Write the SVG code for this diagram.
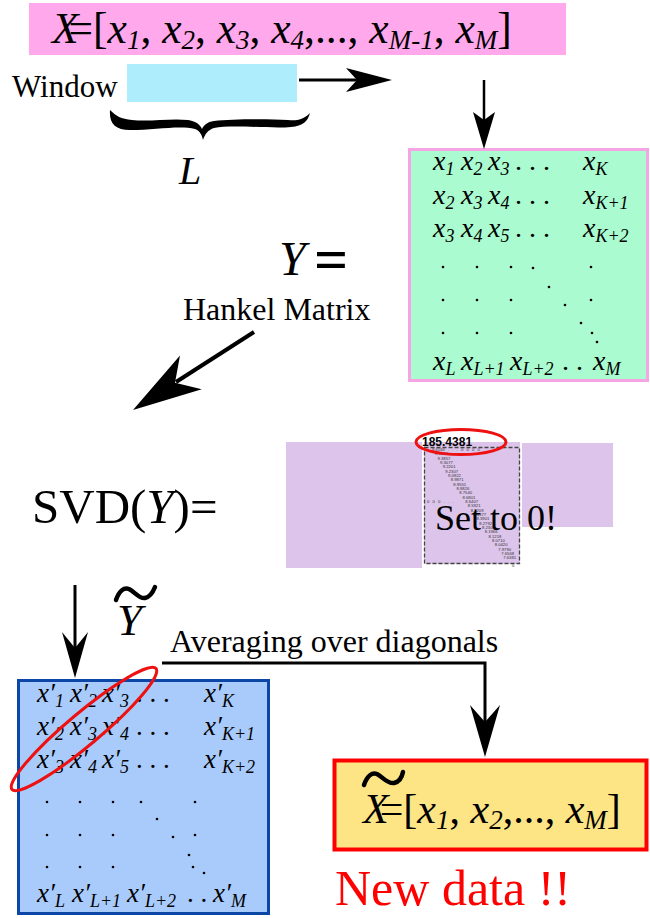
<svg xmlns="http://www.w3.org/2000/svg" width="650" height="918" viewBox="0 0 650 918">
<style>
.r{font-family:"Liberation Serif","Times New Roman",serif;}
.i{font-family:"Liberation Serif","Times New Roman",serif;font-style:italic;}
.n{font-style:normal;}
.sm{font-family:"Liberation Sans",Arial,sans-serif;font-size:4.2px;fill:#333;}
.ln{stroke:#000;fill:none;}
.ah{fill:#000;stroke:none;}
.dot{fill:#000;}
.tl{fill:none;stroke:#000;stroke-width:4.5;stroke-linecap:round;}
</style>
<rect width="650" height="918" fill="#fff"/>

<g id="series">
<rect x="29" y="3" width="537" height="52" fill="#ffa8ec"/>
<text class="i" x="52" y="43" font-size="43.5">X<tspan class="n" dx="-10">=[</tspan>x<tspan font-size="27" dy="6">1</tspan><tspan class="n" dy="-6">, </tspan>x<tspan font-size="27" dy="6">2</tspan><tspan class="n" dy="-6">, </tspan>x<tspan font-size="27" dy="6">3</tspan><tspan class="n" dy="-6">, </tspan>x<tspan font-size="27" dy="6">4</tspan><tspan class="n" dy="-6">,..., </tspan>x<tspan font-size="27" dy="6">M-1</tspan><tspan class="n" dy="-6">, </tspan>x<tspan font-size="27" dy="6">M</tspan><tspan class="n" dy="-6">]</tspan></text>
</g>

<g id="window">
<text class="r" x="12" y="97" font-size="31">Window</text>
<rect x="127" y="64" width="170" height="38" fill="#aeeefc"/>
<path d="M110,110 C109,123 115,130 130,130 C155,130 180,125 195,129 C200,131 202,135 203,140 C205,134 208,130 214,128 C232,124 270,129 291,127 C303,126 308,121 310,113 C303,120 296,121 288,120 C268,119 232,119 214,121 C207,122 204,125 202,129 C200,124 195,121 188,120 C170,118 150,122 132,120 C121,119 116,116 110,110 Z" fill="#000"/>
<text class="i" x="179" y="184" font-size="40">L</text>
</g>

<g id="hankel-matrix">
<rect x="409.5" y="149.5" width="238" height="231" fill="#aafbcf" stroke="#f5a5e3" stroke-width="3"/>
<text class="i" y="170" font-size="28"><tspan x="433">x</tspan><tspan font-size="18" dy="5">1</tspan><tspan x="461" dy="-5">x</tspan><tspan font-size="18" dy="5">2</tspan><tspan x="488" dy="-5">x</tspan><tspan font-size="18" dy="5">3</tspan><tspan class="n" x="515" dy="-5">. . .</tspan><tspan x="583">x</tspan><tspan font-size="18" dy="5">K</tspan></text>
<text class="i" y="204" font-size="28"><tspan x="433">x</tspan><tspan font-size="18" dy="5">2</tspan><tspan x="461" dy="-5">x</tspan><tspan font-size="18" dy="5">3</tspan><tspan x="488" dy="-5">x</tspan><tspan font-size="18" dy="5">4</tspan><tspan class="n" x="515" dy="-5">. . .</tspan><tspan x="583">x</tspan><tspan font-size="18" dy="5">K+1</tspan></text>
<text class="i" y="237" font-size="28"><tspan x="433">x</tspan><tspan font-size="18" dy="5">3</tspan><tspan x="461" dy="-5">x</tspan><tspan font-size="18" dy="5">4</tspan><tspan x="488" dy="-5">x</tspan><tspan font-size="18" dy="5">5</tspan><tspan class="n" x="515" dy="-5">. . .</tspan><tspan x="583">x</tspan><tspan font-size="18" dy="5">K+2</tspan></text>
<g class="dot">
<circle cx="443" cy="267" r="1.3"/><circle cx="477" cy="267" r="1.3"/><circle cx="511" cy="267" r="1.3"/><circle cx="533" cy="268" r="1.3"/><circle cx="591" cy="267" r="1.3"/>
<circle cx="549" cy="287" r="1.3"/>
<circle cx="443" cy="300" r="1.3"/><circle cx="477" cy="300" r="1.3"/><circle cx="511" cy="300" r="1.3"/><circle cx="565" cy="305" r="1.3"/><circle cx="591" cy="300" r="1.3"/>
<circle cx="581" cy="323" r="1.3"/>
<circle cx="443" cy="333" r="1.3"/><circle cx="477" cy="333" r="1.3"/><circle cx="511" cy="333" r="1.3"/><circle cx="592" cy="333" r="1.3"/><circle cx="597" cy="342" r="1.3"/>
</g>
<text class="i" y="370" font-size="28"><tspan x="433">x</tspan><tspan font-size="18" dy="5">L</tspan><tspan x="461" dy="-5">x</tspan><tspan font-size="18" dy="5">L+1</tspan><tspan x="510" dy="-5">x</tspan><tspan font-size="18" dy="5">L+2</tspan><tspan class="n" x="562" dy="-5">. .</tspan><tspan x="593">x</tspan><tspan font-size="18" dy="5">M</tspan></text>
</g>

<g id="y-label">
<text class="i" x="279" y="275" font-size="48">Y</text>
<text class="r" x="314" y="279" font-size="60" font-weight="bold">=</text>
<text class="r" x="183" y="320" font-size="32">Hankel Matrix</text>
</g>

<g id="svd-label">
<text class="r" x="32" y="523" font-size="49">SVD(<tspan class="i">Y</tspan>)=</text>
</g>

<g id="svd-matrices">
<rect x="286" y="442" width="136" height="126" fill="#dcc4ea"/>
<rect x="424" y="442" width="96" height="122" fill="#dcc4ea"/>
<rect x="522" y="443" width="91" height="84" fill="#dcc4ea"/>
<rect x="424.5" y="447.5" width="95" height="116" fill="none" stroke="#444" stroke-width="1.3" stroke-dasharray="4,2"/>
<text class="sm" x="432" y="451" word-spacing="2">9.6160 . . . 0 0 0 0</text>
<text class="sm" x="435" y="455.3">9.4426</text>
<text class="sm" x="437.5" y="459.7">9.3857</text>
<text class="sm" x="440" y="464">9.3077</text>
<text class="sm" x="442.7" y="468.3">9.2201</text>
<text class="sm" x="445.3" y="472.7">9.2307</text>
<text class="sm" x="448" y="477">9.0922</text>
<text class="sm" x="450.7" y="481.3">8.9871</text>
<text class="sm" x="453.3" y="485.6">8.9551</text>
<text class="sm" x="456.5" y="490">8.8826</text>
<text class="sm" x="459.3" y="494.3">8.7540</text>
<text class="sm" x="462.5" y="498.6">8.6801</text>
<text class="sm" x="427" y="503" word-spacing="2">0 0 0 . . .</text>
<text class="sm" x="465.3" y="503">8.6407</text>
<text class="sm" x="467.7" y="507.3">8.5921</text>
<text class="sm" x="470.7" y="511.6">8.5209</text>
<text class="sm" x="473.3" y="516">8.4377</text>
<text class="sm" x="476.5" y="520.3">8.3901</text>
<text class="sm" x="479.3" y="524.6">8.2792</text>
<text class="sm" x="482" y="529">8.2306</text>
<text class="sm" x="484.7" y="533.3">8.1966</text>
<text class="sm" x="488.5" y="537.6">8.1218</text>
<text class="sm" x="492" y="542">8.0710</text>
<text class="sm" x="494.7" y="546.3">8.0420</text>
<text class="sm" x="498.3" y="550.6">7.9790</text>
<text class="sm" x="501.3" y="555">7.6568</text>
<text class="sm" x="503.3" y="559.3">7.6381</text>
<text class="sm" x="512" y="567">0</text>
<text x="422" y="446" font-family="Liberation Sans,Arial,sans-serif" font-size="12" font-weight="bold">185.4381</text>
<ellipse cx="461" cy="442" rx="45" ry="12.5" fill="none" stroke="#ee1111" stroke-width="3"/>
<text class="r" x="435" y="530" font-size="36">Set to 0!</text>
</g>

<g id="y-tilde">
<path class="tl" d="M116,600 C119,591 124,587 129,589 C135,592 139,599 145,598 C150,597 153,592 155,587"/>
<text class="i" x="117" y="635" font-size="45">Y</text>
</g>

<g id="reconstructed-matrix">
<rect x="18.5" y="680.5" width="250" height="233" fill="#a9cbfb" stroke="#0c47a8" stroke-width="3"/>
<text class="i" y="702" font-size="27"><tspan x="37">x′</tspan><tspan font-size="18" dy="5">1</tspan><tspan x="70" dy="-5">x′</tspan><tspan font-size="18" dy="5">2</tspan><tspan x="102" dy="-5">x′</tspan><tspan font-size="18" dy="5">3</tspan><tspan class="n" x="136" dy="-5">. . .</tspan><tspan x="204">x′</tspan><tspan font-size="18" dy="5">K</tspan></text>
<text class="i" y="735" font-size="27"><tspan x="37">x′</tspan><tspan font-size="18" dy="5">2</tspan><tspan x="70" dy="-5">x′</tspan><tspan font-size="18" dy="5">3</tspan><tspan x="102" dy="-5">x′</tspan><tspan font-size="18" dy="5">4</tspan><tspan class="n" x="136" dy="-5">. . .</tspan><tspan x="204">x′</tspan><tspan font-size="18" dy="5">K+1</tspan></text>
<text class="i" y="768" font-size="27"><tspan x="37">x′</tspan><tspan font-size="18" dy="5">3</tspan><tspan x="70" dy="-5">x′</tspan><tspan font-size="18" dy="5">4</tspan><tspan x="102" dy="-5">x′</tspan><tspan font-size="18" dy="5">5</tspan><tspan class="n" x="136" dy="-5">. . .</tspan><tspan x="204">x′</tspan><tspan font-size="18" dy="5">K+2</tspan></text>
<g class="dot">
<circle cx="47" cy="802" r="1.3"/><circle cx="80" cy="802" r="1.3"/><circle cx="113" cy="802" r="1.3"/><circle cx="141" cy="802" r="1.3"/><circle cx="195" cy="802" r="1.3"/>
<circle cx="157" cy="819" r="1.3"/>
<circle cx="47" cy="835" r="1.3"/><circle cx="80" cy="835" r="1.3"/><circle cx="113" cy="835" r="1.3"/><circle cx="173" cy="837" r="1.3"/><circle cx="195" cy="835" r="1.3"/>
<circle cx="189" cy="855" r="1.3"/>
<circle cx="47" cy="867" r="1.3"/><circle cx="80" cy="867" r="1.3"/><circle cx="113" cy="867" r="1.3"/><circle cx="193" cy="867" r="1.3"/><circle cx="204" cy="873" r="1.3"/>
</g>
<text class="i" y="902" font-size="27"><tspan x="37">x′</tspan><tspan font-size="18" dy="5">L</tspan><tspan x="72" dy="-5">x′</tspan><tspan font-size="18" dy="5">L+1</tspan><tspan x="127" dy="-5">x′</tspan><tspan font-size="18" dy="5">L+2</tspan><tspan class="n" x="187" dy="-5">. .</tspan><tspan x="213">x′</tspan><tspan font-size="18" dy="5">M</tspan></text>
<ellipse cx="84" cy="729" rx="94" ry="16" transform="rotate(-40 84 729)" fill="none" stroke="#ee1111" stroke-width="3"/>
</g>

<g id="new-series">
<rect x="334.5" y="760.5" width="312" height="89" fill="#fde485" stroke="#ff0000" stroke-width="4"/>
<path class="tl" d="M364,785 C367,776 372,772 377,774 C383,777 387,784 394,783 C399,782 402,777 403,772"/>
<text class="i" x="363" y="823" font-size="42">X<tspan class="n" dx="-9">=[</tspan>x<tspan font-size="27" dy="6">1</tspan><tspan class="n" dy="-6">, </tspan>x<tspan font-size="27" dy="6">2</tspan><tspan class="n" dy="-6">,..., </tspan>x<tspan font-size="27" dy="6">M</tspan><tspan class="n" dy="-6">]</tspan></text>
<text class="r" x="335" y="905" font-size="50" fill="#ff0000">New data !!</text>
</g>

<g id="averaging-label">
<text class="r" x="170" y="652" font-size="32">Averaging over diagonals</text>
</g>

<g id="connectors">
<line class="ln" x1="299" y1="80" x2="360" y2="80" stroke-width="3"/>
<polygon class="ah" points="392,80 346,68 357,80 346,92"/>
<line class="ln" x1="484" y1="80" x2="484" y2="122" stroke-width="2.5"/>
<polygon class="ah" points="484,149 473,112 484,120 495,112"/>
<line class="ln" x1="254" y1="332" x2="176" y2="382" stroke-width="4"/>
<polygon class="ah" points="133,410 180,355.6 175,382.7 201.8,389.2"/>
<line class="ln" x1="75" y1="585" x2="75" y2="650" stroke-width="3"/>
<polygon class="ah" points="75,678 62,632 75,648 88,632"/>
<polyline class="ln" points="162,663 485,663 485,725" stroke-width="3"/>
<polygon class="ah" points="485,757 470,705 485,722 500,705"/>
</g>
</svg>
